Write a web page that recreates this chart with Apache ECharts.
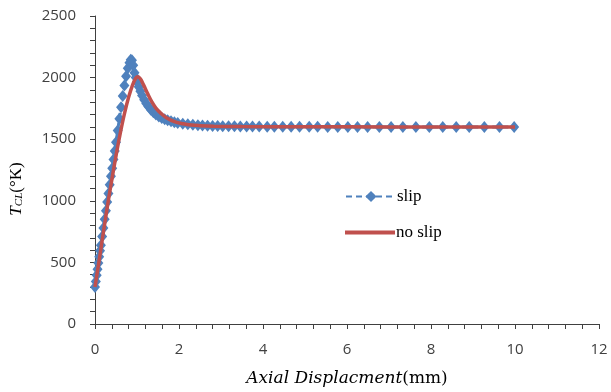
<!DOCTYPE html>
<html>
<head>
<meta charset="utf-8">
<script src="https://cdn.jsdelivr.net/npm/echarts@6/dist/echarts.min.js"></script>
<style>html,body{margin:0;padding:0;background:#fff}#c{width:611px;height:392px}</style>
</head>
<body>
<div id="c"></div>
<script>
var slipX = [0, 0.02, 0.04, 0.06, 0.08, 0.10, 0.12, 0.14, 0.17, 0.20, 0.23, 0.26, 0.29, 0.32, 0.35, 0.38, 0.41, 0.44, 0.47, 0.50, 0.54, 0.58, 0.62, 0.66, 0.70, 0.74, 0.78, 0.82, 0.85, 0.88, 0.91, 0.94, 0.97, 1.00, 1.04, 1.08, 1.12, 1.17, 1.22, 1.27, 1.33, 1.39, 1.45, 1.52, 1.59, 1.66, 1.73, 1.81, 1.89, 1.97, 2.09, 2.21, 2.33, 2.45, 2.56, 2.68, 2.80, 2.92, 3.04, 3.18, 3.32, 3.46, 3.61, 3.75, 3.91, 4.10, 4.27, 4.47, 4.67, 4.87, 5.10, 5.30, 5.54, 5.78, 6.02, 6.25, 6.49, 6.77, 7.05, 7.33, 7.64, 7.96, 8.28, 8.60, 8.91, 9.27, 9.63, 9.98];
var slipY = [300, 345, 395, 445, 495, 545, 595, 640, 710, 780, 850, 920, 990, 1060, 1130, 1200, 1265, 1335, 1405, 1475, 1570, 1665, 1760, 1850, 1935, 2010, 2075, 2120, 2145, 2140, 2100, 2040, 2000, 1965, 1925, 1890, 1855, 1820, 1790, 1765, 1740, 1718, 1700, 1684, 1672, 1662, 1653, 1645, 1638, 1632, 1626, 1621, 1617, 1614, 1612, 1610, 1608, 1607, 1606, 1605, 1605, 1604, 1604, 1603, 1603, 1602, 1602, 1602, 1601, 1601, 1601, 1601, 1600, 1600, 1600, 1600, 1600, 1600, 1600, 1600, 1600, 1600, 1600, 1600, 1600, 1600, 1600, 1600];
var noSlipX = [0, 0.1, 0.2, 0.3, 0.4, 0.5, 0.6, 0.7, 0.8, 0.9, 0.97, 1.02, 1.08, 1.15, 1.25, 1.35, 1.45, 1.57, 1.7, 1.89, 2.1, 2.29, 2.5, 2.83, 3.5, 5, 7, 10];
var noSlipY = [300, 520, 745, 965, 1170, 1365, 1545, 1705, 1840, 1945, 1995, 2007, 1990, 1945, 1872, 1805, 1752, 1710, 1675, 1643, 1625, 1615, 1610, 1606, 1603, 1601, 1600, 1600];
var xTicks = [0, 2, 4, 6, 8, 10, 12];
var yTicks = [0, 500, 1000, 1500, 2000, 2500];

function zip(a, b) { return a.map(function (v, i) { return [v, b[i]]; }); }

var blue = '#4F81BD', red = '#C0504D', axisCol = '#404040';
var chart = echarts.init(document.getElementById('c'), null, { renderer: 'canvas' });
chart.setOption({
  animation: false,
  backgroundColor: '#fff',
  grid: { left: 94, top: 16, right: 12, bottom: 68, containLabel: false },
  legend: [
    { data: ['slip'], left: 340, top: 183, itemWidth: 50, itemHeight: 14,
      textStyle: { fontFamily: 'Liberation Serif', fontSize: 17, color: '#000', padding: [0, 0, 0, -4] } },
    { data: [{ name: 'no slip', icon: 'rect' }], left: 340, top: 219, itemWidth: 50, itemHeight: 4,
      textStyle: { fontFamily: 'Liberation Serif', fontSize: 17, color: '#000', padding: [0, 0, 0, -4] } }
  ],
  xAxis: {
    type: 'value', min: xTicks[0], max: xTicks[xTicks.length - 1], interval: 2,
    axisLine: { lineStyle: { color: axisCol, width: 1 } },
    axisTick: { show: true, length: 5, inside: false, lineStyle: { color: axisCol } },
    minorTick: { show: true, splitNumber: 5, length: 5, lineStyle: { color: axisCol } },
    splitLine: { show: false },
    axisLabel: { margin: 18, fontFamily: 'Open Sans', fontSize: 15, color: axisCol },
    name: '{i|Axial Displacment}{r|(mm)}', nameLocation: 'middle', nameGap: 46,
    nameTextStyle: {
      rich: {
        i: { fontFamily: 'DejaVu Serif', fontStyle: 'italic', fontSize: 17, color: '#000' },
        r: { fontFamily: 'DejaVu Serif', fontSize: 17, color: '#000' }
      }
    }
  },
  yAxis: {
    type: 'value', min: yTicks[0], max: yTicks[yTicks.length - 1], interval: 500,
    axisLine: { show: true, lineStyle: { color: axisCol, width: 1 } },
    axisTick: { show: true, length: 5, inside: false, lineStyle: { color: axisCol } },
    minorTick: { show: true, splitNumber: 5, length: 5, lineStyle: { color: axisCol } },
    splitLine: { show: false },
    axisLabel: { margin: 19, fontFamily: 'Open Sans', fontSize: 15, color: axisCol,
      formatter: function (v) { return String(v); } },
    name: '{t|T}{s|CL}{r|(°K)}', nameLocation: 'middle', nameGap: 70, nameRotate: 90,
    nameTextStyle: {
      padding: [0, 38, 0, 0],
      rich: {
        t: { fontFamily: 'Liberation Serif', fontStyle: 'italic', fontSize: 17, color: '#000', verticalAlign: 'bottom', lineHeight: 20 },
        s: { fontFamily: 'Liberation Serif', fontStyle: 'italic', fontSize: 11, color: '#000', verticalAlign: 'bottom', lineHeight: 20 },
        r: { fontFamily: 'Liberation Serif', fontSize: 17, color: '#000', verticalAlign: 'bottom', lineHeight: 20 }
      }
    }
  },
  series: [
    {
      name: 'slip', type: 'line', data: zip(slipX, slipY),
      symbol: 'diamond', symbolSize: [10, 12], showSymbol: true,
      lineStyle: { color: blue, width: 3, type: [6, 4] },
      itemStyle: { color: blue, borderWidth: 0 },
      z: 2
    },
    {
      name: 'no slip', type: 'line', data: zip(noSlipX, noSlipY),
      smooth: 0.4, symbol: 'none', showSymbol: false,
      lineStyle: { color: red, width: 3.5 },
      itemStyle: { color: red },
      z: 3
    }
  ]
});
</script>
</body>
</html>
